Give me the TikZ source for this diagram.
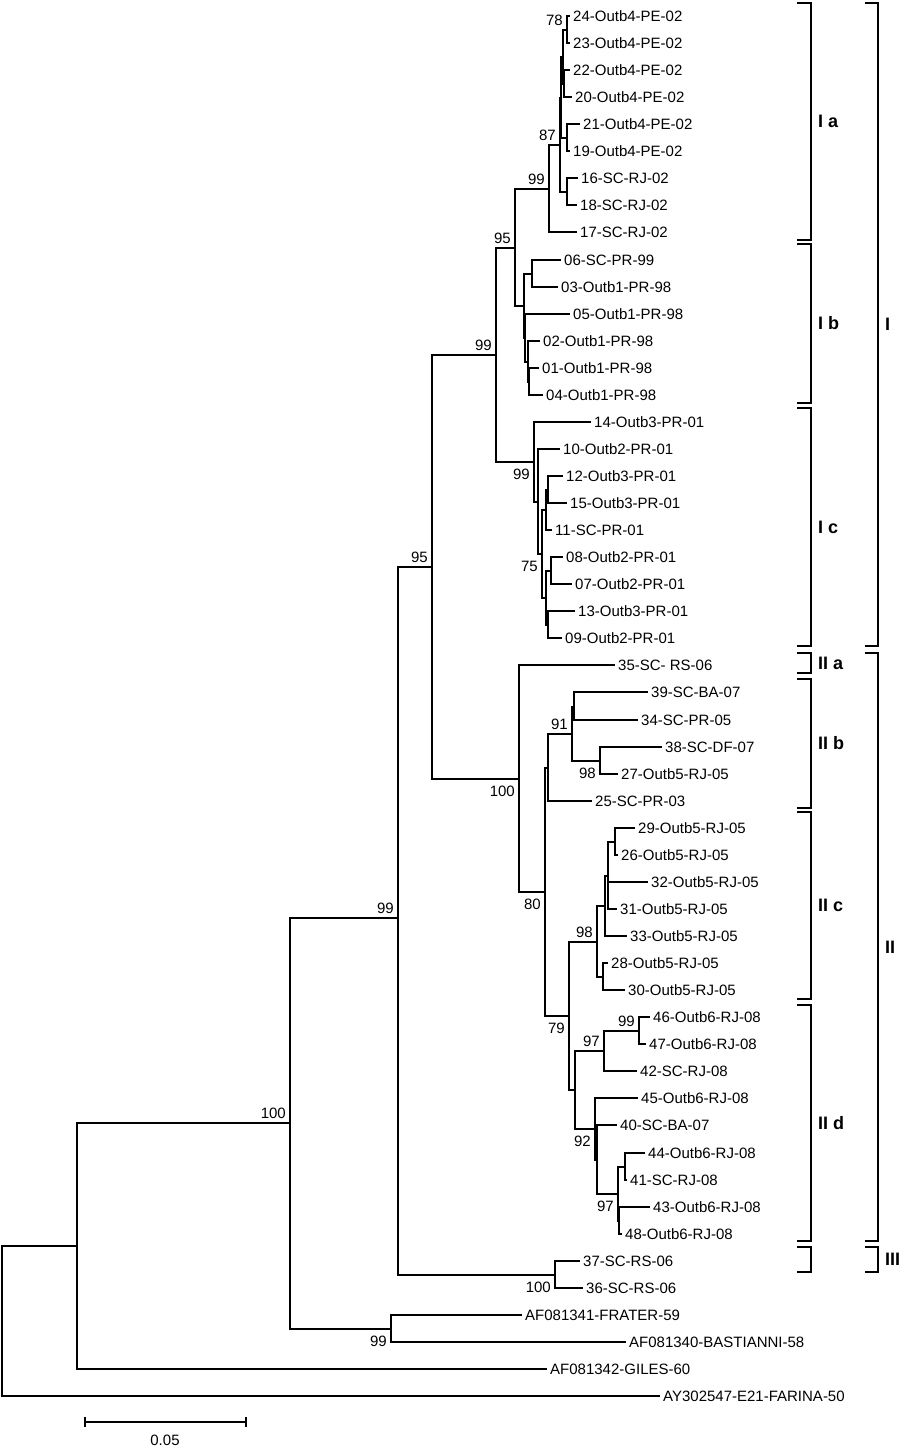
\documentclass[tikz,border=0pt]{standalone}
\usepackage{fontspec}
\setmainfont{Liberation Sans}
\begin{document}
\begin{tikzpicture}[x=1pt,y=-1pt,
  branch/.style={line width=2pt},
  clade/.style={line width=2.8pt},
  leaf/.style={anchor=west,inner xsep=3pt,inner ysep=1pt,text height=10.7pt,text depth=0pt,font=\fontsize{15}{18}\selectfont},
  bsup/.style={anchor=south east,inner xsep=4pt,inner ysep=4.5pt,text height=10.7pt,text depth=0pt,font=\fontsize{15}{18}\selectfont},
  bsdown/.style={anchor=north east,inner xsep=4pt,inner ysep=7pt,text height=10.7pt,text depth=0pt,font=\fontsize{15}{18}\selectfont},
  cladelbl/.style={anchor=west,inner sep=0pt,font=\fontsize{18}{20}\selectfont\bfseries}]
\fill[white] (0,0) rectangle (900,1454);
\useasboundingbox (0,0) rectangle (900,1454);
% the taxa, one row each
\foreach \n/\x/\t [count=\i from 0] in {
  24/570/24-Outb4-PE-02, 23/570/23-Outb4-PE-02, 22/570/22-Outb4-PE-02, 20/572/20-Outb4-PE-02,
  21/580/21-Outb4-PE-02, 19/570/19-Outb4-PE-02, 16/578/16-SC-RJ-02, 18/577/18-SC-RJ-02,
  17/577/17-SC-RJ-02, 06/561/06-SC-PR-99, 03/558/03-Outb1-PR-98, 05/570/05-Outb1-PR-98,
  02/540/02-Outb1-PR-98, 01/539/01-Outb1-PR-98, 04/543/04-Outb1-PR-98, 14/591/14-Outb3-PR-01,
  10/560/10-Outb2-PR-01, 12/563/12-Outb3-PR-01, 15/567/15-Outb3-PR-01, 11/552/11-SC-PR-01,
  08/563/08-Outb2-PR-01, 07/572/07-Outb2-PR-01, 13/575/13-Outb3-PR-01, 09/562/09-Outb2-PR-01,
  35/615/35-SC- RS-06, 39/648/39-SC-BA-07, 34/638/34-SC-PR-05, 38/662/38-SC-DF-07,
  27/618/27-Outb5-RJ-05, 25/592/25-SC-PR-03, 29/635/29-Outb5-RJ-05, 26/618/26-Outb5-RJ-05,
  32/648/32-Outb5-RJ-05, 31/617/31-Outb5-RJ-05, 33/627/33-Outb5-RJ-05, 28/608/28-Outb5-RJ-05,
  30/625/30-Outb5-RJ-05, 46/650/46-Outb6-RJ-08, 47/646/47-Outb6-RJ-08, 42/637/42-SC-RJ-08,
  45/638/45-Outb6-RJ-08, 40/617/40-SC-BA-07, 44/645/44-Outb6-RJ-08, 41/627/41-SC-RJ-08,
  43/650/43-Outb6-RJ-08, 48/622/48-Outb6-RJ-08, 37/580/37-SC-RS-06, 36/583/36-SC-RS-06,
  FR/522/AF081341-FRATER-59, BA/626/AF081340-BASTIANNI-58, GI/547/AF081342-GILES-60,
  FA/660/AY302547-E21-FARINA-50}
  \node[leaf] (l\n) at (\x,{round(16+27.06*\i)}) {\t};
% the inner nodes
\foreach \n/\x/\y in {
  n78/567/30, nV/564/84, nU/563/57, n2119/567/138, nT/561/98, n1618/567/192,
  n87/560/145, nIa/549/189, n0603/532/274, nZ2/529/382, nZ/528/362, nW/525/338,
  nIb/524/306, nF/515/248, n1215/548/490, nK/546/510, n0807/551/571,
  n1309/548/625, nM/546/598, n75/542/554, nY/538/502, nIc/534/462, nE/496/355,
  n3934/574/707, n98a/600/761, n91/572/734, nIIb/548/768, n2926/615/842,
  nQ/608/876, nP/605/906, n2830/603/977, n98b/597/942, n99c/639/1031,
  n97a/604/1051, n4441/625/1167, nS/619/1221, n97b/618/1194, nR/597/1160,
  n92/595/1129, nX/575/1090, n79/569/1016, n80/545/892, nII/519/779,
  nD/432/567, nIII/555/1275, nC/398/918, nFB/391/1329, nB/290/1123,
  nA/77/1246, root/2/1321}
  \coordinate (\n) at (\x,\y);
% the branches
\foreach \p/\c in {
  n78/l24, n78/l23, nV/l22, nV/l20, nU/n78, nU/nV, n2119/l21, n2119/l19, nT/nU, nT/n2119,
  n1618/l16, n1618/l18, n87/nT, n87/n1618, nIa/n87, nIa/l17,
  n0603/l06, n0603/l03, nZ2/l01, nZ2/l04, nZ/l02, nZ/nZ2, nW/l05, nW/nZ, nIb/n0603, nIb/nW,
  nF/nIa, nF/nIb,
  n1215/l12, n1215/l15, nK/n1215, nK/l11, n0807/l08, n0807/l07, n1309/l13, n1309/l09,
  nM/n0807, nM/n1309, n75/nK, n75/nM, nY/l10, nY/n75, nIc/l14, nIc/nY, nE/nF, nE/nIc,
  n3934/l39, n3934/l34, n98a/l38, n98a/l27, n91/n3934, n91/n98a, nIIb/n91, nIIb/l25,
  n2926/l29, n2926/l26, nQ/n2926, nQ/l32, nQ/l31, nP/nQ, nP/l33, n2830/l28, n2830/l30,
  n98b/nP, n98b/n2830,
  n99c/l46, n99c/l47, n97a/n99c, n97a/l42, n4441/l44, n4441/l41, nS/l43, nS/l48,
  n97b/n4441, n97b/nS, nR/l40, nR/n97b, n92/l45, n92/nR, nX/n97a, nX/n92,
  n79/n98b, n79/nX, n80/nIIb, n80/n79, nII/l35, nII/n80, nD/nE, nD/nII,
  nIII/l37, nIII/l36, nC/nD, nC/nIII, nFB/lFR, nFB/lBA, nB/nC, nB/nFB,
  nA/nB, nA/lGI, root/nA, root/lFA}
  \draw[branch] (\p) |- (\c);
% bootstrap values
\foreach \n/\t/\s in {
  n78/78/bsup, n87/87/bsup, nIa/99/bsup, nF/95/bsup, nE/99/bsup, nD/95/bsup,
  nIc/99/bsdown, n75/75/bsdown, nII/100/bsdown, n91/91/bsup, n98a/98/bsdown,
  n80/80/bsdown, n98b/98/bsup, n79/79/bsdown, n97a/97/bsup, n99c/99/bsup,
  n92/92/bsdown, n97b/97/bsdown, nIII/100/bsdown, nC/99/bsup, nB/100/bsup, nFB/99/bsdown}
  \node[\s] (b\n) at (\n) {\t};
% subgroup brackets
\foreach \n/\a/\b/\t in {Ia/3/240/I a, Ib/244/403/I b, Ic/408/646/I c, IIa/653/673/II a,
  IIb/679/808/II b, IIc/812/999/II c, IId/1005/1241/II d, III/1247/1272/}
{ \draw[clade] (797,\a) -- (811,\a) -- (811,\b) -- (797,\b);
  \node[cladelbl] (c\n) at (818,{(\a+\b)/2}) {\t}; }
% group brackets
\foreach \n/\a/\b/\t in {I/3/646/I, II/653/1241/II, III/1247/1272/III}
{ \draw[clade] (865,\a) -- (878,\a) -- (878,\b) -- (865,\b);
  \node[cladelbl] (g\n) at (885,{(\a+\b)/2}) {\t}; }
% scale bar
\draw[branch] (85,1422) -- (246,1422);
\draw[branch] (85,1417) -- (85,1427) (246,1417) -- (246,1427);
\node[leaf,anchor=center] (scale) at (165,1440) {0.05};
\end{tikzpicture}
\end{document}
